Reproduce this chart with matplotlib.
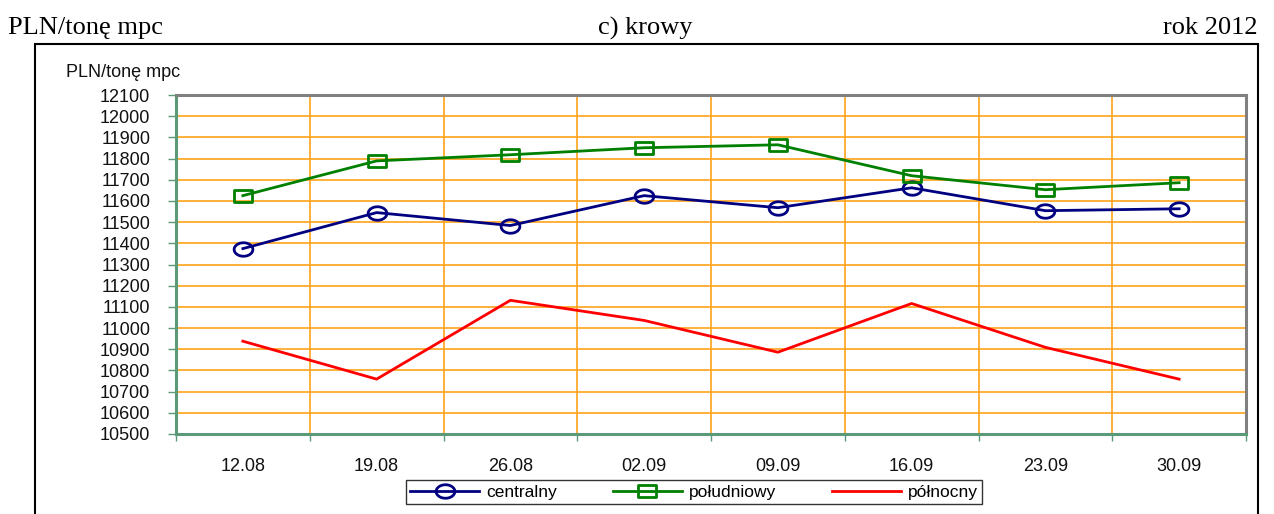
import numpy as np
import matplotlib.pyplot as plt
from matplotlib.patches import Rectangle
from matplotlib.path import Path
from matplotlib.ticker import FixedLocator

# data
dates = ["12.08", "19.08", "26.08", "02.09", "09.09", "16.09", "23.09", "30.09"]
centralny = [11375, 11545, 11484, 11625, 11568, 11662, 11554, 11563]
poludniowy = [11625, 11789, 11818, 11851, 11865, 11719, 11653, 11686]
polnocny = [10938, 10759, 11131, 11036, 10886, 11116, 10909, 10759]
yticks = list(range(10500, 12101, 100))

# flattened marker shapes (the original uses wide ovals and boxes)
t = np.linspace(0, 2 * np.pi, 40)
oval = Path(np.column_stack([np.cos(t) * 1.0, np.sin(t) * 0.72]), closed=True)
box = Path([(-1, -0.62), (1, -0.62), (1, 0.62), (-1, 0.62), (-1, -0.62)], closed=True)

W, H = 1274, 514
fig = plt.figure(figsize=(W / 100, H / 100), dpi=100)

# axes box in pixels: x 176..1246, y 95..434
ax = fig.add_axes([176 / W, 1 - 434 / H, (1246 - 176) / W, (434 - 95) / H])

x = np.arange(len(dates))
ax.plot(x, centralny, color="#000080", lw=2, marker=oval, ms=13.5, mfc="none",
        mew=2, label="centralny", zorder=4)
ax.plot(x, poludniowy, color="#008000", lw=2, marker=box, ms=13.5, mfc="none",
        mew=2, label="południowy", zorder=4)
ax.plot(x, polnocny, color="#ff0000", lw=2, label="północny", zorder=4)

ax.set_xlim(-0.5, len(dates) - 0.5)
ax.set_ylim(10500, 12100)
ax.set_yticks(yticks)
ax.set_yticklabels([str(v) for v in yticks])
ax.set_xticks(x)
ax.set_xticklabels(dates)
ax.xaxis.set_minor_locator(FixedLocator(np.arange(-0.5, len(dates), 1.0)))

grid_c = "#ffa31a"
ax.grid(axis="y", which="major", color=grid_c, lw=1.2, zorder=1)
ax.grid(axis="x", which="minor", color=grid_c, lw=1.2, zorder=1)

spine_g = "#5a9a78"
ax.spines["left"].set_color(spine_g)
ax.spines["bottom"].set_color(spine_g)
ax.spines["top"].set_color("#808080")
ax.spines["right"].set_color("#808080")
for s in ax.spines.values():
    s.set_linewidth(2.2)
    s.set_zorder(5)

ax.tick_params(axis="y", which="major", direction="out", length=5.5, color=spine_g,
               width=1, pad=13)
ax.tick_params(axis="x", which="major", length=0, pad=17)
ax.tick_params(axis="x", which="minor", direction="out", length=5, color=spine_g, width=1)
for lab in ax.get_yticklabels() + ax.get_xticklabels():
    lab.set_fontfamily("Liberation Sans")
    lab.set_fontsize(13)
    lab.set_color("#111111")

# outer chart frame
fig.patches.append(Rectangle((35 / W, -0.05), (1258 - 35) / W, (H - 44) / H + 0.05,
                             transform=fig.transFigure, fill=False, ec="black",
                             lw=1.5, zorder=0))

# unit label inside the frame
fig.text(66 / W, 1 - 73 / H, "PLN/tonę mpc", family="Liberation Sans", size=13,
         va="center", ha="left", color="#111111")

# headings above the frame
serif = dict(family="Liberation Serif", size=19, va="center", color="black")
fig.text(8 / W, 1 - 28 / H, "PLN/tonę mpc", ha="left", **serif)
fig.text(645 / W, 1 - 28 / H, "c) krowy", ha="center", **serif)
fig.text(1258 / W, 1 - 28 / H, "rok 2012", ha="right", **serif)

leg = fig.legend(loc="center", bbox_to_anchor=(694 / W, 1 - 492 / H), ncol=3,
                 frameon=True, fancybox=False, shadow=False, handlelength=4.0,
                 columnspacing=3.2, handletextpad=0.4, borderpad=0.25,
                 borderaxespad=0, prop=dict(family="Liberation Sans", size=12.5))
leg.get_frame().set_edgecolor("black")
leg.get_frame().set_linewidth(1.0)

fig.savefig("out.png", dpi=100)
